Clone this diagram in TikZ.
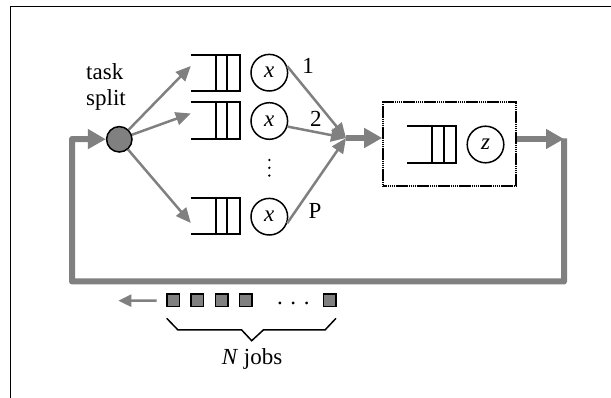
\documentclass[tikz,border=0pt]{standalone}
\usepackage{fontspec}
\setmainfont{Liberation Serif}
\usetikzlibrary{arrows.meta}
\definecolor{flowgray}{RGB}{128,128,128}
\tikzset{
  bigflow/.style={draw=flowgray, line width=6pt, line join=round},
  bigtip/.style={-{Triangle[length=18pt,width=19pt]}},
  thinflow/.style={draw=flowgray, line width=2.5pt, -{Triangle[length=15pt,width=13pt]}},
  smallflow/.style={draw=flowgray, line width=2.5pt, -{Triangle[length=13pt,width=12pt]}},
  server/.style={circle, draw=black, line width=1.5pt, minimum size=36.6pt, inner sep=0pt,
                 font=\fontsize{23}{27}\selectfont\itshape},
  splitter/.style={circle, draw=black, fill=flowgray, line width=1.5pt, minimum size=25.4pt, inner sep=0pt},
  queue/.style={rectangle, minimum width=49pt, minimum height=36pt, inner sep=0pt},
  qline/.style={draw=black, line width=2pt},
  lbl/.style={font=\fontsize{23}{27}\selectfont, inner sep=0pt},
  job/.style={draw=black, fill=flowgray, line width=1.5pt, minimum size=12.5pt, inner sep=0pt},
  stationbox/.style={draw=black, line width=2.2pt, dash pattern=on 1.6pt off 0.5pt,
                     minimum width=132.4pt, minimum height=84pt, inner sep=0pt}
}
\begin{document}
\begin{tikzpicture}[x=1pt, y=-1pt]
\useasboundingbox (0,0) rectangle (611,398);

% page frame (top and left edges only)
\draw[line width=1.6pt] (10.5,398) -- (10.5,6.7) -- (611,6.7);

% fork node
\node[splitter] (split) at (119.3,139.3) {};
\node[lbl, anchor=base west] (tasklbl) at (86,79.3) {task};
\node[lbl, anchor=base west] (splitlbl) at (86,106) {split};

% parallel queues and servers
\node[queue] (q1) at (215.5,73) {};
\node[queue] (q2) at (215.5,120.5) {};
\node[queue] (q3) at (215.5,216) {};
\node[server] (s1) at (269.3,72.7) {x};
\node[server] (s2) at (269.3,121) {x};
\node[server] (s3) at (269.3,216.7) {x};
% vertical ellipsis between the second and last branch
\foreach \yy in {160,167.8,175.6}
  \fill (269.3,\yy) circle (1.3);

% delay station
\node[stationbox] (box) at (449.5,144) {};
\node[queue] (q4) at (431.7,144.7) {};
\node[server] (sz) at (485.5,144.5) {z};

\foreach \q in {q1,q2,q3,q4}{
  \draw[qline] (\q.north west) -- (\q.north east) -- (\q.south east) -- (\q.south west);
  \draw[qline] (\q.north) -- (\q.south) ([xshift=11.8pt]\q.north) -- ([xshift=11.8pt]\q.south);
}

% join point and loop corners
\coordinate (join) at (346,138);
\coordinate (cTR) at (564,139);
\coordinate (cBR) at (564,281.5);
\coordinate (cBL) at (72,281.5);
\coordinate (cTL) at (72,139);

% fork arrows
\draw[thinflow] (split) -- ([yshift=7pt]q1.west);
\draw[thinflow] (split) -- ([yshift=7pt]q2.west);
\draw[thinflow] (split) -- ([yshift=-7pt]q3.west);

% join arrows
\draw[thinflow] (s1.20) -- (join);
\draw[thinflow] (s2.-17) -- (join);
\draw[thinflow] (s3.-20) -- (join);
\node[lbl, anchor=base] (lbl1) at (308,73.3) {1};
\node[lbl, anchor=base] (lbl2) at (315.8,126.7) {2};
\node[lbl, anchor=base] (lblP) at (315,218.3) {P};

% closed loop
\draw[bigflow, bigtip] (join) -- (box.west |- join);
\draw[bigflow, bigtip] (box.east |- cTR) -- (cTR);
\draw[bigflow, bigtip] (564,138.3) -- (cBR) -- (cBL) -- (cTL) -- (split);

% circulating jobs
\node[job] (j1) at (173,300.5) {};
\node[job] (j2) at (197.3,300.5) {};
\node[job] (j3) at (221.5,300.5) {};
\node[job] (j4) at (245.5,300.5) {};
\node[job] (j5) at (329.8,300.5) {};
\node[lbl, anchor=base] (hdots) at (293.3,304.3) {.\hspace{7.6pt}.\hspace{7.6pt}.};
\coordinate (jobsout) at (118.3,300.7);
\draw[smallflow] ([xshift=-9.3pt]j1.west) -- (jobsout);

% brace under the jobs
\draw[black, line width=1.5pt, line join=miter]
  (166.7,318.3) -- (178,330) -- (241.7,330) -- (251.7,340.7)
  -- (263.3,330) -- (325,330) -- (336,318.3);
\node[lbl, anchor=base] (njobs) at (252,364.3) {\textit{N} jobs};
\end{tikzpicture}
\end{document}
